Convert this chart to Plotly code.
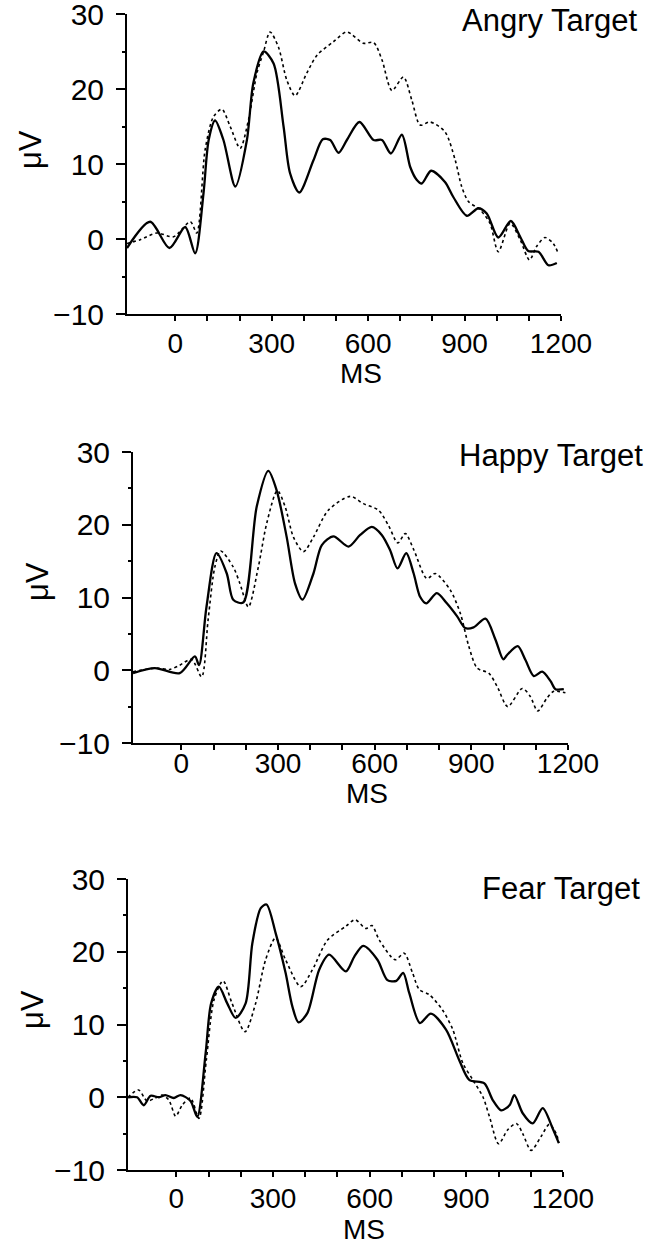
import plotly.graph_objects as go

# ---------------- data (ms, µV) ----------------
angry_solid_t = [-150, -78, -18, 31, 62, 88, 104, 124, 150, 187, 223, 243, 275, 306, 337, 357, 386, 430, 459,
                 482, 508, 534, 573, 617, 643, 671, 705, 731, 751, 767, 796, 839, 865, 907, 943, 969, 1005,
                 1044, 1073, 1098, 1130, 1161, 1187]
angry_solid_v = [-1.2, 2.3, -1.2, 1.6, -1.9, 6.1, 13.2, 15.8, 13.2, 7.0, 13.2, 20.8, 25.0, 23.4, 15.0, 8.8, 6.2, 10.5, 13.3,
                 13.2, 11.5, 13.2, 15.6, 13.2, 13.2, 11.4, 13.9, 9.6, 7.9, 7.4, 9.1, 7.6, 5.6, 3.1, 4.1, 3.4, 0.2,
                 2.4, 0.3, -1.6, -1.7, -3.5, -3.2]
angry_dot_t = [-150, -109, -57, -5, 47, 67, 93, 119, 145, 171, 202, 228, 254, 275, 295, 321, 347, 373, 409, 441,
               492, 534, 585, 617, 643, 674, 710, 736, 762, 793, 839, 871, 891, 912, 948, 979, 1005, 1042,
               1073, 1102, 1124, 1150, 1176, 1191]
angry_dot_v = [-0.6, -0.1, 0.8, 0.3, 2.3, 0.8, 11.9, 16.3, 17.3, 15.0, 12.1, 15.9, 22.1, 25.0, 27.6, 25.6, 21.2, 19.1, 22.1, 24.5,
               26.3, 27.6, 26.1, 26.2, 23.9, 19.8, 21.6, 18.5, 15.2, 15.6, 14.3, 10.5, 7.0, 5.0, 3.9, 2.1, -1.7, 2.1,
               -0.1, -2.8, -1.0, 0.2, -0.6, -1.9]

happy_solid_t = [-150, -82, -5, 42, 55, 78, 109, 141, 161, 192, 234, 270, 296, 327, 353, 376, 410, 436, 472,
                 519, 555, 591, 622, 648, 671, 698, 721, 741, 760, 793, 824, 856, 881, 907, 944, 975, 999,
                 1011, 1044, 1068, 1094, 1120, 1146, 1161, 1187]
happy_solid_v = [-0.4, 0.3, -0.4, 1.9, 0.7, 8.7, 16.1, 13.3, 9.7, 9.3, 22.5, 27.4, 24.7, 18.3, 11.9, 9.7, 13.3, 17.2, 18.4,
                 17.0, 18.6, 19.7, 18.6, 16.5, 14.0, 16.1, 13.3, 10.1, 9.2, 10.6, 9.2, 7.4, 5.8, 5.9, 7.1, 4.2, 1.5,
                 2.1, 3.3, 1.4, -0.8, -0.2, -1.5, -2.6, -2.6]
happy_dot_t = [-150, -77, -36, -5, 32, 63, 83, 104, 122, 161, 182, 208, 239, 265, 298, 322, 348, 379, 410, 456,
               524, 565, 612, 643, 672, 695, 721, 762, 788, 835, 866, 892, 918, 954, 980, 1013, 1058, 1083,
               1106, 1135, 1156, 1192]
happy_dot_v = [-0.2, 0.3, 0.1, 0.7, 1.5, -0.9, 6.9, 14.2, 16.4, 14.2, 11.9, 8.7, 14.2, 20.2, 24.7, 22.5, 18.3, 16.3, 18.3, 22.0,
               23.9, 22.9, 22.0, 19.9, 17.5, 18.8, 16.6, 12.6, 13.3, 11.0, 7.8, 3.3, 0.3, -0.4, -2.2, -5.0, -2.5, -3.6,
               -5.6, -3.8, -2.9, -3.1]

fear_solid_t = [-150, -122, -101, -80, -54, -34, -8, 13, 44, 65, 91, 108, 132, 158, 184, 215, 236, 262, 280, 308,
                339, 360, 379, 407, 443, 474, 526, 552, 580, 624, 655, 683, 704, 723, 756, 790, 837, 878,
                909, 956, 982, 1008, 1034, 1049, 1075, 1106, 1137, 1168, 1187]
fear_solid_v = [0.0, 0.0, -1.1, 0.2, 0.0, 0.3, -0.1, 0.3, -0.5, -2.7, 6.1, 12.9, 15.2, 12.9, 10.9, 12.9, 21.2, 26.0, 26.5, 22.6,
                17.1, 12.5, 10.3, 11.6, 17.5, 19.6, 17.3, 19.3, 20.8, 18.9, 16.1, 16.0, 17.1, 14.3, 10.2, 11.5, 9.3, 5.1,
                2.4, 1.9, -0.4, -1.8, -1.1, 0.3, -2.2, -3.6, -1.5, -4.3, -6.3]
fear_dot_t = [-150, -117, -91, -65, -44, -23, -2, 18, 44, 70, 93, 117, 145, 173, 213, 246, 277, 308, 339, 386, 422,
              469, 526, 555, 588, 607, 630, 679, 707, 733, 754, 785, 826, 858, 889, 920, 951, 972, 1000,
              1028, 1055, 1075, 1101, 1132, 1158, 1179, 1187]
fear_dot_v = [0.0, 1.0, -0.5, -0.1, 0.3, -0.4, -2.6, -1.1, -0.1, -2.9, 5.1, 13.4, 16.0, 12.9, 9.0, 12.9, 18.9, 21.9, 18.9, 15.2, 17.5,
              21.6, 23.5, 24.4, 23.2, 23.6, 21.6, 18.9, 19.8, 17.1, 14.8, 14.1, 12.0, 9.3, 4.7, 2.4, 0.1, -2.7, -6.4,
              -4.5, -3.6, -5.0, -7.3, -5.4, -3.7, -5.0, -6.3]

titles = ["Angry Target", "Happy Target", "Fear Target"]
x_tick_vals = list(range(0, 1201, 100))
x_tick_text = [str(v) if v % 300 == 0 else "" for v in x_tick_vals]
y_tick_vals = [-10, 0, 10, 20, 30]

panels = [
    (angry_solid_t, angry_solid_v, angry_dot_t, angry_dot_v),
    (happy_solid_t, happy_solid_v, happy_dot_t, happy_dot_v),
    (fear_solid_t, fear_solid_v, fear_dot_t, fear_dot_v),
]

# ---------------- layout geometry (pixels) ----------------
W, H = 657, 1245
# (x_left, x_right, y_top, y_bottom) of each plot area in pixels
boxes = [(127, 561, 14, 314), (133, 568, 452, 743), (128, 563, 879, 1170)]
title_pos = [(640, 21), (645, 455), (642, 888)]
ylab_pos = [(31, 150), (37, 582), (32, 1010)]
ms_pos = [(361, 373), (367, 793), (364, 1229)]
x_standoff = [-2, -11, -3]

FONT = "Liberation Sans, Arial, sans-serif"
fig = go.Figure()
layout = dict(width=W, height=H, margin=dict(l=0, r=0, t=0, b=0, pad=0, autoexpand=False),
              paper_bgcolor="white", plot_bgcolor="white", showlegend=False,
              font=dict(family=FONT, color="black", size=27))
annotations = []
for i, (st, sv, dt, dv) in enumerate(panels):
    n = "" if i == 0 else str(i + 1)
    xl, xr, yt, yb = boxes[i]
    fig.add_trace(go.Scatter(x=dt, y=dv, mode="lines", xaxis="x" + n, yaxis="y" + n,
                             line=dict(color="black", width=1.6, dash="dot", shape="spline", smoothing=0.8)))
    fig.add_trace(go.Scatter(x=st, y=sv, mode="lines", xaxis="x" + n, yaxis="y" + n,
                             line=dict(color="black", width=2.3, shape="spline", smoothing=0.8)))
    layout["xaxis" + n] = dict(domain=[xl / W, xr / W], anchor="y" + n, range=[-150, 1200], automargin=False,
                               showgrid=False, zeroline=False, showline=True, linecolor="black", linewidth=2,
                               tickmode="array", tickvals=x_tick_vals, ticktext=x_tick_text,
                               ticks="outside", ticklen=5, tickwidth=1.5, tickcolor="black",
                               ticklabeloverflow="allow",
                               ticklabelstandoff=x_standoff[i], tickfont=dict(size=28))
    layout["yaxis" + n] = dict(domain=[1 - yb / H, 1 - yt / H], anchor="x" + n, range=[-10, 30], automargin=False,
                               showgrid=False, zeroline=False, showline=True, linecolor="black", linewidth=2,
                               tickmode="array", tickvals=y_tick_vals,
                               ticks="outside", ticklen=9, tickwidth=2, tickcolor="black",
                               minor=dict(ticks="outside", ticklen=3, dtick=5, tick0=0, tickcolor="black", tickwidth=1.5),
                               ticklabeloverflow="allow",
                               ticklabelstandoff=6, tickfont=dict(size=30))
    tx, ty = title_pos[i]
    annotations.append(dict(text=titles[i], x=tx / W, y=1 - ty / H, xref="paper", yref="paper",
                            xanchor="right", yanchor="middle", showarrow=False, font=dict(size=31)))
    lx, ly = ylab_pos[i]
    annotations.append(dict(text="μV", x=lx / W, y=1 - ly / H, xref="paper", yref="paper",
                            xanchor="center", yanchor="middle", textangle=-90, showarrow=False, font=dict(size=31)))
    mx, my = ms_pos[i]
    annotations.append(dict(text="MS", x=mx / W, y=1 - my / H, xref="paper", yref="paper",
                            xanchor="center", yanchor="middle", showarrow=False, font=dict(size=28)))
layout["annotations"] = annotations
fig.update_layout(**layout)
fig.write_html("out.html", config={"displayModeBar": False},
               post_script="document.body.style.margin='0';")
